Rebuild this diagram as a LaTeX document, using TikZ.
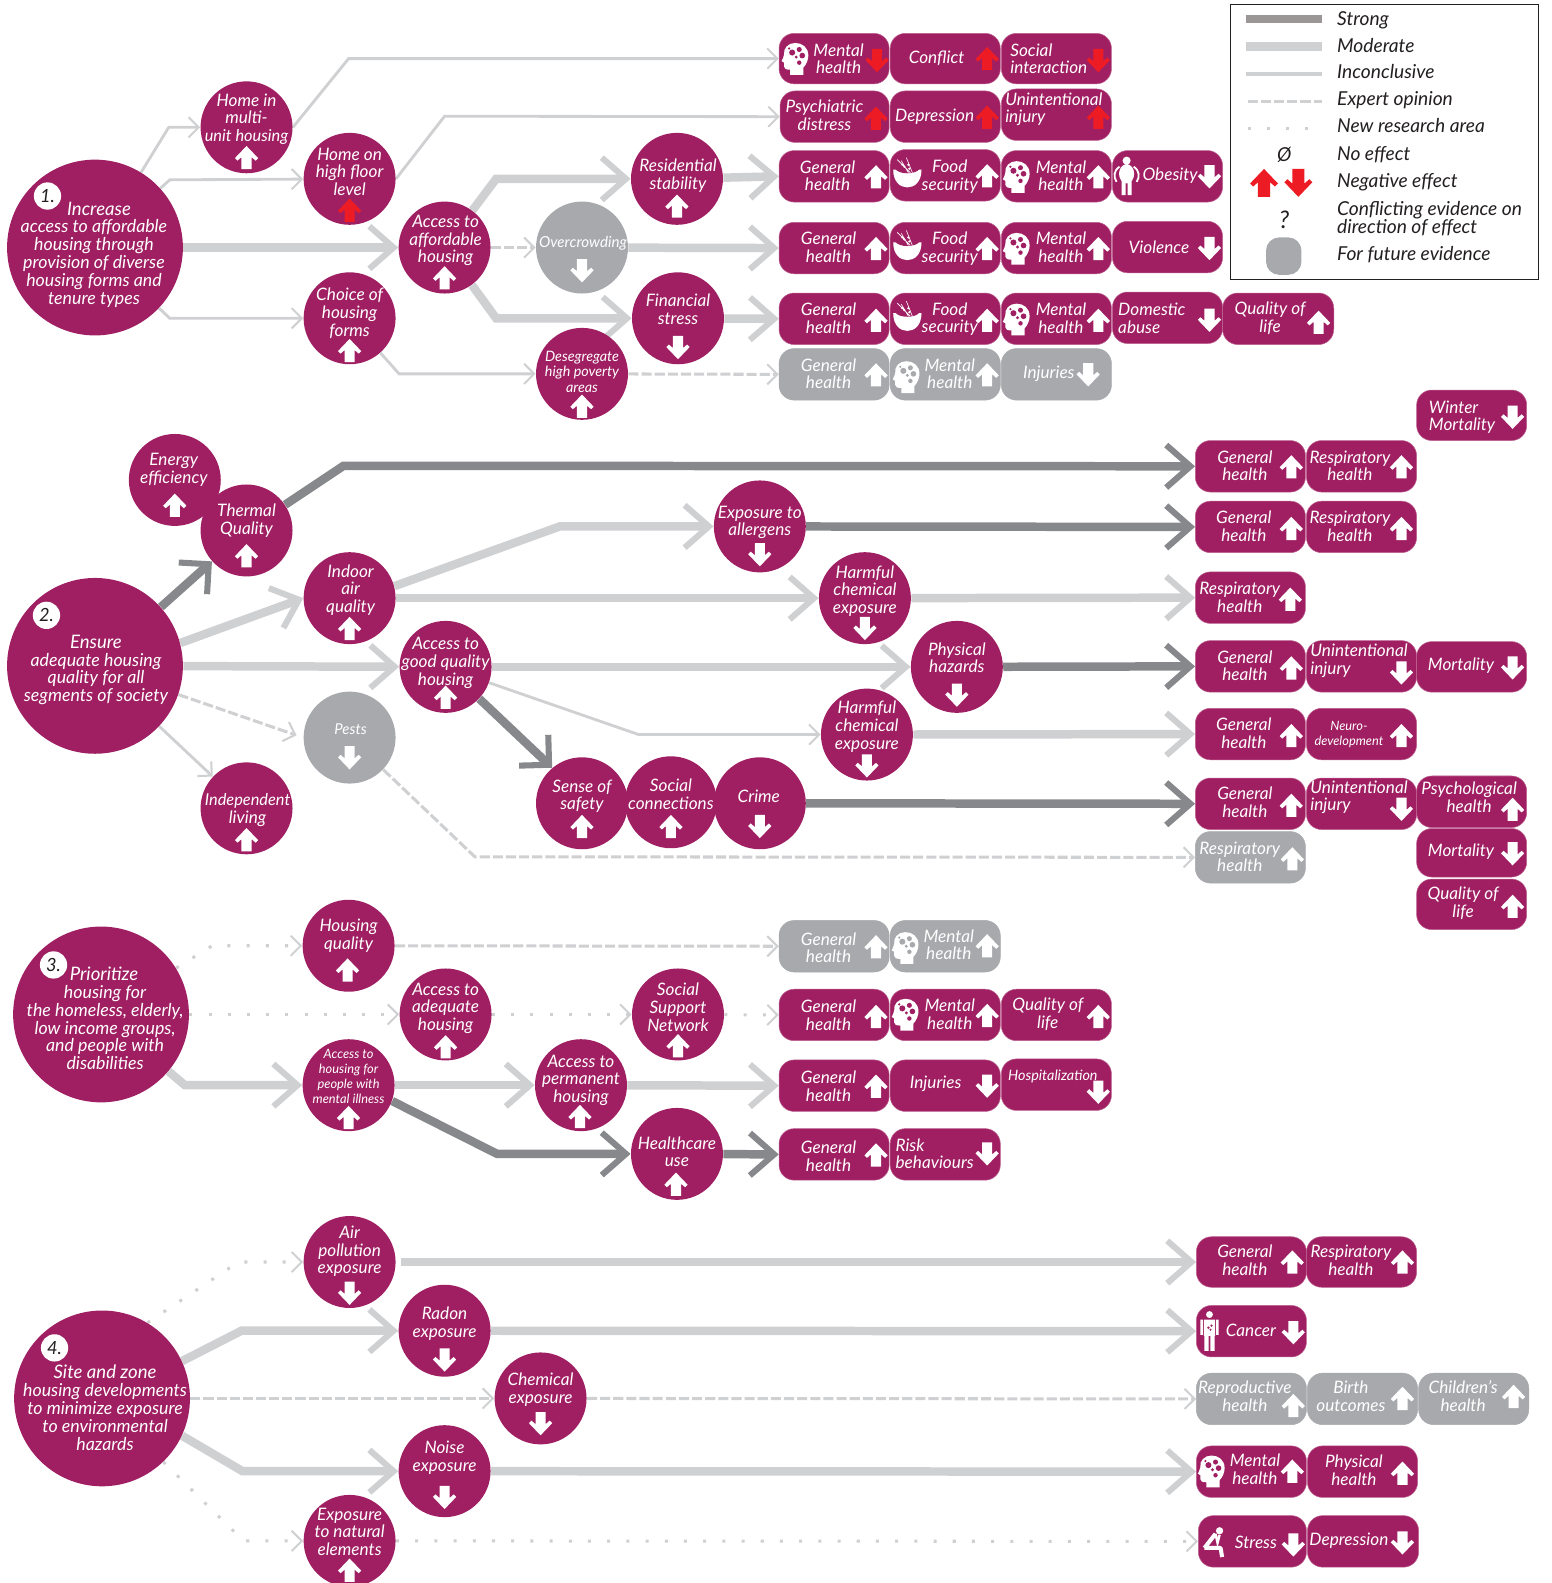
\documentclass[tikz,border=0pt]{standalone}
\usepackage{fontspec}
\setmainfont{Lato}
\usetikzlibrary{arrows.meta,backgrounds}
\definecolor{plum}{HTML}{A01F62}
\definecolor{ashy}{HTML}{A7A9AC}
\definecolor{strongc}{HTML}{87888B}
\definecolor{legstrong}{HTML}{9A9696}
\definecolor{modc}{HTML}{CFD0D2}
\definecolor{redc}{HTML}{ED1C24}
\definecolor{inkc}{HTML}{231F20}
\tikzset{
 bubP/.style={circle,fill=plum,inner sep=0pt,minimum size=45.5pt},
 bubG/.style={circle,fill=ashy,inner sep=0pt,minimum size=45.5pt},
 rootB/.style={circle,fill=plum,inner sep=0pt,minimum size=87pt},
 badge/.style={circle,fill=white,inner sep=0pt,minimum size=13.5pt},
 pillP/.style={rectangle,rounded corners=7.5pt,fill=plum,draw=plum!70!white,line width=.25pt,inner sep=0pt},
 pillG/.style={fill=ashy,draw=ashy},
 lab/.style={text=white,font=\fontsize{8.5pt}{8.75pt}\selectfont\itshape,align=center,inner sep=0pt},
 rootlab/.style={lab,font=\fontsize{8.8pt}{8.85pt}\selectfont\itshape},
 roothead/.style={lab,font=\fontsize{9.2pt}{9.6pt}\selectfont\itshape},
 numlab/.style={lab,text=inkc,font=\fontsize{9pt}{10pt}\selectfont\itshape},
 leg/.style={text=inkc,font=\fontsize{9.5pt}{9pt}\selectfont\itshape,align=left,inner sep=0pt,anchor=base west},
 conStr/.style={draw=strongc,line width=4.2pt,-{Straight Barb[length=12pt,width=21pt,line width=3pt]}},
 conMod/.style={draw=modc,line width=4.2pt,-{Straight Barb[length=12pt,width=21pt,line width=3pt]}},
 conThin/.style={draw=modc,line width=1.4pt,-{Straight Barb[length=5pt,width=10pt,line width=1pt]}},
 conDash/.style={draw=modc,line width=1.5pt,dash pattern=on 5pt off 1.5pt,-{Straight Barb[length=5pt,width=10pt,line width=1pt]}},
 conDot/.style={draw=modc,line width=1.5pt,dash pattern=on 1.5pt off 8pt,-{Straight Barb[length=5pt,width=10pt,line width=1pt]}},
}
\newcommand\fsA{\fontsize{6.35pt}{7.6pt}\selectfont}
\newcommand\fsB{\fontsize{7.1pt}{7.8pt}\selectfont}
\newcommand\fsC{\fontsize{8.1pt}{8.75pt}\selectfont}
\newcommand\arU[3][white]{\fill[#1,shift={(#2,#3)}] (0,-11.5)--(11.5,.5)--(9,3)--(5,-.5)--(5,11.5)--(-5,11.5)--(-5,-.5)--(-9,3)--(-11.5,.5)--cycle;}
\newcommand\arD[3][white]{\fill[#1,shift={(#2,#3)}] (0,11.5)--(11.5,-.5)--(9,-3)--(5,.5)--(5,-11.5)--(-5,-11.5)--(-5,.5)--(-9,-3)--(-11.5,-.5)--cycle;}
% bubble: [style]{name}{x}{y}{tx}{ty}{text}
\newcommand\bub[7][bubP]{\node[#1] (#2) at (#3,#4) {};\node[lab] (#2-t) at (#5,#6) {#7};}
% pill: [opts]{x1}{x2}{y1}{y2}{tx}{ty}{text}
\newcommand\pill[8][]{\node[pillP,#1,minimum width={(#3-#2)*.5pt},minimum height={(#5-#4)*.5pt}] (#2x#3x#4) at ({(#2+#3)/2},{(#4+#5)/2}) {};\node[lab] (#2x#3x#4-t) at (#6,#7) {#8};}
\newcommand\pillL[8][]{\node[pillP,#1,minimum width={(#3-#2)*.5pt},minimum height={(#5-#4)*.5pt}] (#2x#3x#4) at ({(#2+#3)/2},{(#4+#5)/2}) {};\node[lab,align=left] (#2x#3x#4-t) at (#6,#7) {#8};}
\newcommand\headicon[3][plum]{\begin{scope}[shift={(#2,#3)}]
 \fill[white] (8,16) -- (8,9) .. controls (11,6) and (13,1) .. (13,-3) .. controls (13,-11) and (7,-15.5) .. (0,-15.5) .. controls (-7,-15.5) and (-12,-10) .. (-11,-4) .. controls (-11,-2) and (-13,1) .. (-13.5,2.5) -- (-11,4) -- (-11,8) .. controls (-11,10) and (-9,11) .. (-5,11) -- (-5,16) -- cycle;
 \fill[#1] (-3,-6) circle (1.5pt) (4,-9) circle (1.25pt) (7,-3) circle (1.4pt) (1,-1.5) circle (.8pt) (4,4) circle (1.1pt) (-6,-10) circle (.6pt);
\end{scope}}
\newcommand\bowlicon[3][plum]{\begin{scope}[shift={(#2,#3)}]
 \fill[white] (-14,-6) .. controls (-14,6) and (-7,11.5) .. (0,11.5) .. controls (7,11.5) and (14,6) .. (14,-6) -- cycle;
 \fill[#1] (-12,-7) .. controls (-9,-1) and (9,-1) .. (12,-7) -- cycle;
 \draw[white,line width=.3pt] (3,-3) -- (-10,-16) (5,-3) -- (-1,-18) (1,-3) -- (-6,-15);
 \fill[white] (-3,-9) circle (.6pt) (1,-11) circle (.6pt) (-5,-11) circle (.6pt) (2,-7) circle (.6pt);
\end{scope}}
\newcommand\fatman[2]{\begin{scope}[shift={(#1,#2)}]
 \fill[white] (0,-15) circle (2pt) (0,-2) ellipse (3.75pt and 4.75pt) (-5,4) rectangle (-1,19) (1,4) rectangle (5,19);
 \draw[white,line width=.9pt] (-7,-9) .. controls (-13,-5) and (-13,1) .. (-10,6) (7,-9) .. controls (13,-5) and (13,1) .. (10,6);
\end{scope}}
\newcommand\sickman[2]{\begin{scope}[shift={(#1,#2)}]
 \fill[white] (0,-16) circle (1.7pt) (-5.5,-11) rectangle (5.5,5) (-9,-11) rectangle (-6.5,4) (6.5,-11) rectangle (9,4) (-5,5) rectangle (-.8,20) (.8,5) rectangle (5,20);
 \fill[plum] (-1,-3) circle (.65pt) (2,-5) circle (.65pt) (1,-1) circle (.55pt);
\end{scope}}
\newcommand\sadman[2]{\begin{scope}[shift={(#1,#2)}]
 \fill[white] (6,-11) circle (1.8pt);
 \draw[white,line width=2pt,line join=round] (-9,6) -- (2,-8) (-9,6) -- (7,6) -- (8.5,15);
 \draw[white,line width=1.2pt] (2,-8) -- (4,1) -- (6,-7);
\end{scope}}
\begin{document}
\begin{tikzpicture}[x=.5pt,y=-.5pt]
\useasboundingbox (0,0) rectangle (1536,1566.7);
% ---------- section 1
\node[rootB] (root1) at (94,245) {};
\node[badge] (b1) at (47,194) {};
\node[numlab] (b1-t) at (47,194) {1.};
\node[roothead] (root1-a) at (98,207) {Increase};
\node[rootlab] (root1-t) at (93,261) {access to affordable\\housing through\\provision of diverse\\housing forms and\\tenure types};
\bub{c11}{244}{126}{244}{118}{Home in\\multi-\\\fsC unit housing}\arU{244}{156}
\bub{c12}{346}{177}{346}{170}{Home on\\high floor\\level}\arU[redc]{346}{208}
\bub{c13}{440}{245}{441}{238}{Access to\\affordable\\housing}\arU{440}{275}
\bub{c14}{346}{315}{346}{310}{Choice of\\housing\\forms}\arU{346}{347}
\bub[bubG]{c15}{576}{245}{577}{241}{\fontsize{7.5pt}{8pt}\selectfont Overcrowding}\arD{576}{268}
\bub{c16}{670}{177}{671}{174}{Residential\\stability}\arU{670}{204}
\bub{c17}{671}{315}{671}{306}{Financial\\stress}\arD{671}{344}
\bub{c18}{576}{370}{576}{368}{\fsB Desegregate\\[-1pt]\fsB high poverty\\[-1pt]\fsB areas}\arU{576}{402}
% pills row 1
\pill{771}{880}{33}{83}{830}{58}{Mental\\health}\headicon{787}{58}\arD[redc]{868}{60}
\pill{881}{990}{33}{83}{927}{58}{Conflict}\arU[redc]{977}{58}
\pillL{991}{1100}{33}{83}{1038}{58}{Social\\interaction}\arD[redc]{1087}{60}
\pill{772}{880}{90}{141}{816}{114}{Psychiatric\\distress}\arU[redc]{867}{117}
\pill{881}{990}{90}{141}{925}{116}{Depression}\arU[redc]{977}{116}
\pillL{991}{1100}{88}{139}{1043}{108}{Unintentional\\injury}\arU[redc]{1087}{116}
\pill{771}{880}{149}{200}{819}{174}{General\\health}\arU{867}{175}
\pill{881}{990}{148}{199}{940}{175}{Food\\security}\bowlicon{898}{174}\arU{977}{174}
\pill{991}{1100}{149}{200}{1050}{174}{Mental\\health}\headicon{1006}{175}\arU{1087}{175}
\pill{1101}{1210}{149}{200}{1158}{174}{Obesity}\fatman{1115}{174}\arD{1197}{175}
\pill{771}{880}{220}{271}{820}{245}{General\\health}\arU{867}{246}
\pill{881}{990}{220}{271}{940}{246}{Food\\security}\bowlicon{898}{246}\arU{977}{246}
\pill{991}{1100}{220}{271}{1050}{245}{Mental\\health}\headicon{1006}{246}\arU{1087}{246}
\pill{1101}{1210}{219}{270}{1147}{245}{Violence}\arD{1197}{246}
\pill{771}{880}{290}{341}{820}{315}{General\\health}\arU{867}{317}
\pill{881}{990}{290}{341}{940}{316}{Food\\security}\bowlicon{898}{316}\arU{977}{317}
\pill{991}{1100}{290}{341}{1050}{315}{Mental\\health}\headicon{1006}{316}\arU{1087}{317}
\pillL{1101}{1210}{289}{340}{1140}{315}{Domestic\\abuse}\arD{1197}{317}
\pill{1210}{1320}{290}{341}{1257}{315}{Quality of\\life}\arU{1305}{319}
\pill[pillG]{771}{880}{345}{396}{820}{370}{General\\health}\arU{867}{371}
\pill[pillG]{881}{990}{345}{396}{940}{370}{Mental\\health}\headicon[ashy]{897}{373}\arU{977}{371}
\pill[pillG]{991}{1100}{345}{396}{1038}{370}{Injuries}\arD{1077}{371}
\begin{scope}[on background layer]
 \draw[conThin] (root1) -- (167,126) -- (c11);
 \draw[conThin] (root1) -- (168,178) -- (c12);
 \draw[conThin] (root1) -- (168,315) -- (c14);
 \draw[conMod] (root1) -- (c13);
 \draw[conThin] (c11.east) -- (345,58) -- (771x880x33.west);
 \draw[conThin] (c12.east) -- (440,115) -- (772x880x90.west);
 \draw[conMod] (c13) -- (491,177) -- (c16);
 \draw[conMod] (c13) -- (491,315) -- (c17);
 \draw[conDash] (c13) -- (c15);
 \draw[conMod] (c15) -- (771x880x220.west);
 \draw[conMod] (c16) -- (771x880x149.west);
 \draw[conMod] (c17) -- (771x880x290.west);
 \draw[conThin] (c14) -- (395,370) -- (c18);
 \draw[conDash] (c18) -- (771x880x345.west);
\end{scope}
% ---------- section 2
\node[rootB] (root2) at (94,659) {};
\node[badge] (b2) at (46,609) {};
\node[numlab] (b2-t) at (46,609) {2.};
\node[roothead] (root2-a) at (95,635) {Ensure};
\node[rootlab] (root2-t) at (95,672) {adequate housing\\quality for all\\segments of society};
\bub{en}{173}{475}{172}{465}{Energy\\efficiency}\arU{173}{500}
\bub{th}{244}{525}{244}{515}{Thermal\\Quality}\arU{244}{550}
\bub{ind}{346}{592}{347}{584}{Indoor\\air\\quality}\arU{346}{622}
\bub{ag}{441}{660}{441}{656}{Access to\\good quality\\housing}\arU{441}{690}
\bub[bubG]{pe}{346}{730}{347}{722}{\fontsize{7.4pt}{8pt}\selectfont Pests}\arD{346}{750}
\bub{il}{244}{800}{245}{802}{\fsC Independent\\living}\arU{244}{831}
\bub{al}{752}{521}{752}{517}{Exposure to\\allergens}\arD{752}{549}
\bub{h1}{856}{592}{856}{585}{Harmful\\chemical\\exposure}\arD{856}{622}
\bub{ph}{947}{660}{947}{651}{Physical\\hazards}\arD{947}{688}
\bub{h2}{858}{727}{858}{719}{Harmful\\chemical\\exposure}\arD{858}{758}
\bub{se}{576}{795}{576}{788}{Sense of\\safety}\arU{576}{818}
\bub{so}{664}{794}{664}{786}{Social\\connections}\arU{664}{818}
\bub{cr}{752}{795}{751}{788}{Crime}\arD{752}{818}
\pillL{1402}{1511}{386}{436}{1447}{413}{Winter\\Mortality}\arD{1497}{413}
\pill{1183}{1292}{436}{487}{1232}{461}{General\\health}\arU{1278}{462}
\pill{1293}{1402}{436}{487}{1336}{461}{Respiratory\\health}\arU{1387}{462}
\pill{1183}{1292}{496}{547}{1231}{521}{General\\health}\arU{1278}{523}
\pill{1293}{1402}{496}{547}{1336}{521}{Respiratory\\health}\arU{1387}{523}
\pill{1183}{1292}{566}{617}{1227}{591}{Respiratory\\health}\arU{1277}{593}
\pill{1183}{1292}{634}{685}{1232}{659}{General\\health}\arU{1278}{661}
\pillL{1293}{1402}{634}{685}{1345}{654}{Unintentional\\injury}\arD{1387}{666}
\pill{1402}{1511}{635}{685}{1446}{659}{Mortality}\arD{1497}{661}
\pill{1183}{1292}{701}{752}{1231}{725.5}{General\\health}\arU{1278}{728}
\pill{1293}{1402}{701}{752}{1335}{727}{\fsA Neuro-\\[-1pt]\fsA development}\arU{1387}{728}
\pill{1183}{1292}{770}{821}{1232}{794}{General\\health}\arU{1278}{797}
\pillL{1293}{1402}{770}{821}{1345}{789}{Unintentional\\injury}\arD{1387}{801}
\pill{1402}{1511}{768}{819}{1454}{789}{Psychological\\health}\arU{1497}{801}
\pill[pillG]{1183}{1292}{823}{874}{1227}{848}{Respiratory\\health}\arU{1279}{850}
\pill{1402}{1511}{820}{868}{1446}{843}{Mortality}\arD{1497}{845}
\pill{1402}{1511}{870}{920}{1448}{894}{Quality of\\life}\arU{1497}{897}
\begin{scope}[on background layer]
 \draw[conStr,-{Straight Barb[length=10.5pt,width=21pt,line width=3pt]}] (root2) -- (th);
 \draw[conStr] (th) -- (340,461) -- (1183x1292x436.west);
 \draw[conMod] (root2.15) -- (ind.west);
 \draw[conMod] (root2) -- (ag);
 \draw[conDash,shorten >=3.5pt] (root2.-19) -- (pe.west);
 \draw[conThin] (root2) -- (il);
 \draw[conMod] (ind.15) -- (554,521) -- (al);
 \draw[conStr] (al) -- (1183x1292x496.west);
 \draw[conMod] (ind) -- (h1);
 \draw[conMod] (h1) -- (1183x1292x566.west);
 \draw[conMod] (ag) -- (ph);
 \draw[conStr] (ph) -- (1183x1292x634.west);
 \draw[conThin] (ag.-20) -- (632,727) -- (h2);
 \draw[conMod] (h2) -- (1183x1292x701.west);
 \draw[conStr,-{Straight Barb[length=10.5pt,width=21pt,line width=3pt]}] (ag) -- (se.130);
 \draw[conStr] (cr) -- (1183x1292x770.west);
 \draw[conDash] (pe) -- (470,848) -- (1183x1292x823.west);
\end{scope}
% ---------- section 3
\node[rootB] (root3) at (100,1004) {};
\node[badge] (b3) at (53,955) {};
\node[numlab] (b3-t) at (53,955) {3.};
\node[roothead] (root3-a) at (103,964) {Prioritize};
\node[rootlab] (root3-t) at (104,1017) {housing for\\the homeless, elderly,\\low income groups,\\and people with\\disabilities};
\bub{hq}{345}{936}{345}{926}{Housing\\quality}\arU{344}{960}
\bub{aq}{441}{1004}{441}{998}{Access to\\adequate\\housing}\arU{441}{1036}
\bub{ss}{671}{1004}{671}{997}{Social\\Support\\Network}\arU{671}{1035}
\bub{am}{345}{1074}{345}{1065.5}{\fsA Access to\\[-1.3pt]\fsA housing for\\[-1.3pt]\fsA people with\\[-1.3pt]\fsA mental illness}\arU{345}{1106}
\bub{pm}{575}{1074}{575}{1069}{Access to\\permanent\\housing}\arU{574}{1105}
\bub{hc}{670}{1142}{670}{1140}{Healthcare\\use}\arU{669}{1172}
\pill[pillG]{771}{880}{911}{962}{820}{938}{General\\health}\arU{867}{937}
\pill[pillG]{881}{990}{911}{962}{939}{935}{Mental\\health}\headicon[ashy]{896}{938}\arU{977}{936}
\pill{771}{880}{979}{1030}{820}{1005}{General\\health}\arU{867}{1006}
\pill{881}{990}{979}{1030}{940}{1004}{Mental\\health}\headicon{896}{1004}\arU{977}{1005}
\pill{991}{1100}{979}{1030}{1037}{1004}{Quality of\\life}\arU{1087}{1006}
\pill{771}{880}{1049}{1100}{820}{1075}{General\\health}\arU{867}{1075}
\pill{881}{990}{1049}{1100}{926}{1073}{Injuries}\arD{977}{1075}
\pill{991}{1100}{1048}{1099}{1042}{1065}{\fsB Hospitalization}\arD{1087}{1081}
\pill{771}{880}{1117}{1168}{820}{1144}{General\\health}\arU{867}{1143}
\pillL{881}{990}{1117}{1168}{925}{1142}{Risk\\behaviours}\arD{977}{1142}
\begin{scope}[on background layer]
 \draw[conDot] (root3) -- (210,936) -- (hq);
 \draw[conDash] (hq) -- (771x880x911.west);
 \draw[conDot] (root3) -- (aq);
 \draw[conDot] (aq) -- (ss);
 \draw[conDot] (ss) -- (771x880x979.west);
 \draw[conMod] (root3) -- (183,1074) -- (am);
 \draw[conMod] (am) -- (pm);
 \draw[conMod] (pm) -- (771x880x1049.west);
 \draw[conStr] (am.-20) -- (492,1142) -- (hc);
 \draw[conStr] (hc) -- (771x880x1117.west);
\end{scope}
% ---------- section 4
\node[rootB] (root4) at (101,1384) {};
\node[badge] (b4) at (54,1334) {};
\node[numlab] (b4-t) at (54,1334) {4.};
\node[roothead] (root4-a) at (104,1358) {Site and zone};
\node[rootlab] (root4-t) at (104,1402.5) {housing developments\\to minimize exposure\\to environmental\\hazards};
\bub{ai}{346}{1249}{346}{1238.5}{Air\\pollution\\exposure}\arD{346}{1280}
\bub{ra}{440}{1317}{440}{1310}{Radon\\exposure}\arD{440}{1346}
\bub{ch}{535}{1384}{535}{1375}{Chemical\\exposure}\arD{535}{1409}
\bub{no}{440}{1456}{440}{1443}{Noise\\exposure}\arD{440}{1482}
\bub{na}{346}{1525}{346}{1516}{Exposure\\to natural\\elements}\arU{346}{1554}
\pill{1184}{1293}{1224}{1274}{1232}{1247}{General\\health}\arU{1279}{1249}
\pill{1293}{1402}{1224}{1274}{1337}{1247}{Respiratory\\health}\arU{1388}{1249}
\pill{1184}{1293}{1292}{1343}{1238}{1317}{Cancer}\sickman{1197}{1317}\arD{1280}{1319}
\pill[pillG]{1184}{1293}{1359}{1410}{1232}{1382}{Reproductive\\health}\arU{1280}{1391}
\pill[pillG]{1294}{1403}{1359}{1410}{1337}{1382}{Birth\\outcomes}\arU{1388}{1384}
\pill[pillG]{1404}{1513}{1359}{1410}{1448}{1382}{Children's\\health}\arU{1498}{1382}
\pill{1184}{1293}{1431}{1482}{1242}{1454}{Mental\\health}\headicon{1199}{1456}\arU{1279}{1456}
\pill{1294}{1403}{1431}{1482}{1340}{1455}{Physical\\health}\arU{1388}{1458}
\pill{1186}{1293}{1500}{1551}{1243}{1526}{Stress}\sadman{1201}{1526}\arD{1280}{1529}
\pill{1294}{1404}{1500}{1551}{1335}{1525}{Depression}\arD{1388}{1527}
\begin{scope}[on background layer]
 \draw[conDot] (root4.59) -- (236,1249) -- (ai);
 \draw[conMod,shorten <=2.5pt] (ai.east) -- (1184x1293x1224.west);
 \draw[conMod] (root4.25) -- (239,1317) -- (ra);
 \draw[conMod] (ra) -- (1184x1293x1292.west);
 \draw[conDash] (root4) -- (ch);
 \draw[conDash] (ch) -- (1184x1293x1359.west);
 \draw[conMod] (root4.-25) -- (240,1456) -- (no);
 \draw[conMod] (no) -- (1184x1293x1431.west);
 \draw[conDot] (root4.-46) -- (241,1525) -- (na);
 \draw[conDot] (na) -- (1186x1293x1500.west);
\end{scope}
% ---------- legend
\node[draw=inkc,line width=.5pt,fill=white,minimum width=152.5pt,minimum height=136.5pt,inner sep=0pt] (legbox) at (1370.5,140.5) {};
\coordinate (s1a) at (1233,19);\coordinate (s1b) at (1308,19);
\coordinate (s2a) at (1233,46);\coordinate (s2b) at (1308,46);
\coordinate (s3a) at (1233,73);\coordinate (s3b) at (1308,73);
\coordinate (s4a) at (1235,100);\coordinate (s4b) at (1308,100);
\coordinate (s5a) at (1235,127);\coordinate (s5b) at (1308,127);
\draw[line width=4pt,legstrong] (s1a) -- (s1b);
\draw[line width=4pt,modc] (s2a) -- (s2b);
\draw[line width=1.8pt,modc] (s3a) -- (s3b);
\draw[line width=1.5pt,modc,dash pattern=on 5pt off 1.5pt] (s4a) -- (s4b);
\draw[line width=1.5pt,modc,dash pattern=on 1.5pt off 8pt] (s5a) -- (s5b);
\node[leg] (l1) at (1323,25.5) {Strong};
\node[leg] (l2) at (1323,51.5) {Moderate};
\node[leg] (l3) at (1323,78) {Inconclusive};
\node[leg] (l4) at (1323,104.5) {Expert opinion};
\node[leg] (l5) at (1323,131.5) {New research area};
\node[leg] (l6) at (1323,158.5) {No effect};
\node[leg] (l7) at (1323,185.5) {Negative effect};
\node[leg,anchor=west] (l8) at (1323,216) {Conflicting evidence on\\direction of effect};
\node[leg] (l9) at (1323,257.5) {For future evidence};
\node[leg,anchor=center] (l0) at (1271,153) {Ø};
\node[leg,anchor=center,font=\fontsize{12pt}{13pt}\selectfont\itshape] (lq) at (1271,218) {?};
\begin{scope}[shift={(1251,181)},scale=1.2]\fill[redc] (0,-11.5)--(11.5,.5)--(9,3)--(5,-.5)--(5,11.5)--(-5,11.5)--(-5,-.5)--(-9,3)--(-11.5,.5)--cycle;\end{scope}
\begin{scope}[shift={(1285,181)},scale=1.2]\fill[redc] (0,11.5)--(11.5,-.5)--(9,-3)--(5,.5)--(5,-11.5)--(-5,-11.5)--(-5,.5)--(-9,-3)--(-11.5,-.5)--cycle;\end{scope}
\node[rectangle,rounded corners=6.5pt,fill=ashy,minimum width=17.5pt,minimum height=18.5pt,inner sep=0pt] (lg) at (1270.5,253.5) {};
\end{tikzpicture}
\end{document}
